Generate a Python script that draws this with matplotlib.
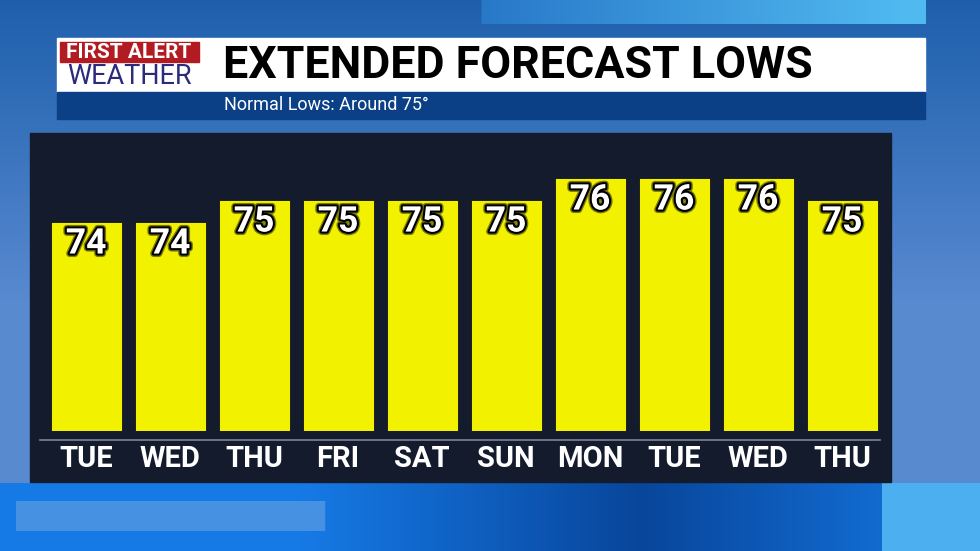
import matplotlib
matplotlib.use('Agg')
import matplotlib.pyplot as plt
import matplotlib.patheffects as pe
from matplotlib.patches import Rectangle
from matplotlib.lines import Line2D
import numpy as np

# ---- data ----
days = ['TUE', 'WED', 'THU', 'FRI', 'SAT', 'SUN', 'MON', 'TUE', 'WED', 'THU']
lows = [74, 74, 75, 75, 75, 75, 76, 76, 76, 75]
title = 'EXTENDED FORECAST LOWS'
subtitle = 'Normal Lows: Around 75\u00b0'

W, H = 980, 551
TITLE_FONT = ['Roboto', 'DejaVu Sans']
NUM_FONT = ['Roboto', 'DejaVu Sans']


def fx(px):
    return px / W


def fy(py):
    # pixel row (from top) -> figure fraction
    return 1 - py / H


def make_background():
    """rough sky-blue backdrop, just decoration"""
    yy, xx = np.mgrid[0:H, 0:W]
    top = np.array([30, 95, 172])
    mid = np.array([88, 138, 208])
    t = np.clip(yy / 300.0, 0, 1)[..., None]
    img = top * (1 - t) + mid * t
    # lighter cyan at the top right
    m = (yy < 24) & (xx > 480) & (xx < 925)
    k = np.clip((xx - 480) / 420.0, 0, 1)
    img[m] = (np.array([40, 120, 200]) * (1 - k[m, None]) + np.array([80, 185, 240]) * k[m, None])
    # bottom strip
    m = yy > 482
    k = np.clip(np.abs(xx - 640) / 340.0, 0, 1)
    bot = np.array([8, 70, 155]) * (1 - k[..., None]) + np.array([22, 122, 230]) * k[..., None]
    img[m] = bot[m]
    m = (yy > 482) & (xx > 880)
    img[m] = np.array([75, 175, 240])
    m = (yy > 500) & (yy < 531) & (xx > 15) & (xx < 325)
    img[m] = np.array([70, 145, 225])
    return np.clip(img, 0, 255).astype(np.uint8)


fig = plt.figure(figsize=(9.8, 5.51), dpi=100)

bg = fig.add_axes([0, 0, 1, 1])
bg.imshow(make_background(), aspect='auto', extent=(0, W, H, 0))
bg.set_xlim(0, W)
bg.set_ylim(H, 0)
bg.axis('off')

# header boxes
bg.add_patch(Rectangle((57, 38), 868, 54, color='white', zorder=2))
bg.add_patch(Rectangle((57, 92), 868, 27, color='#0b3f86', zorder=2))
bg.add_patch(Rectangle((60, 42), 139, 20, color='#b31b22', zorder=3))
bg.text(129, 52.5, 'FIRST ALERT', color='white', fontsize=15, fontweight='bold',
        family=TITLE_FONT, ha='center', va='center', zorder=4)
bg.text(129, 77, 'WEATHER', color='#2b2a7c', fontsize=19.5, family=TITLE_FONT,
        ha='center', va='center', zorder=4)
bg.text(223, 66, title, color='black', fontsize=32.2, fontweight='bold',
        family=TITLE_FONT, ha='left', va='center', zorder=4)
bg.text(224, 105, subtitle, color='white', fontsize=13, family=TITLE_FONT,
        ha='left', va='center', zorder=4)

# dark panel behind the chart
bg.add_patch(Rectangle((30, 133), 861, 349, color='#131b2d', zorder=2))
fig.add_artist(Line2D([fx(40), fx(880)], [fy(440), fy(440)], color='#7d8796', lw=1.2))

# ---- chart ----
ax = fig.add_axes([fx(30), fy(431), fx(861), (431 - 133) / H])
ax.set_facecolor('none')
x = np.arange(len(days))
ax.bar(x, lows, width=0.845, bottom=0, color='#f2f200', edgecolor='#111111', linewidth=0.6, zorder=3)
ax.set_xlim(-0.667, 9.583)
ax.set_ylim(64.5, 64.5 + 298 / 22.0)
for spine in ax.spines.values():
    spine.set_visible(False)
ax.set_yticks([])
ax.set_xticks(x)
ax.set_xticklabels(days, color='white', fontsize=21, fontweight='bold', family=NUM_FONT)
ax.tick_params(axis='x', length=0, pad=10)

outline = [pe.withStroke(linewidth=5, foreground='#2a2a10', alpha=0.6),
           pe.withStroke(linewidth=3, foreground='black')]
for xi, v in zip(x, lows):
    ax.annotate(str(v), (xi, v), xytext=(0, -4), textcoords='offset points',
                ha='center', va='top', color='white', fontsize=25.5, fontweight='bold',
                family=NUM_FONT, path_effects=outline, zorder=4)

fig.savefig('out.png', dpi=100)
